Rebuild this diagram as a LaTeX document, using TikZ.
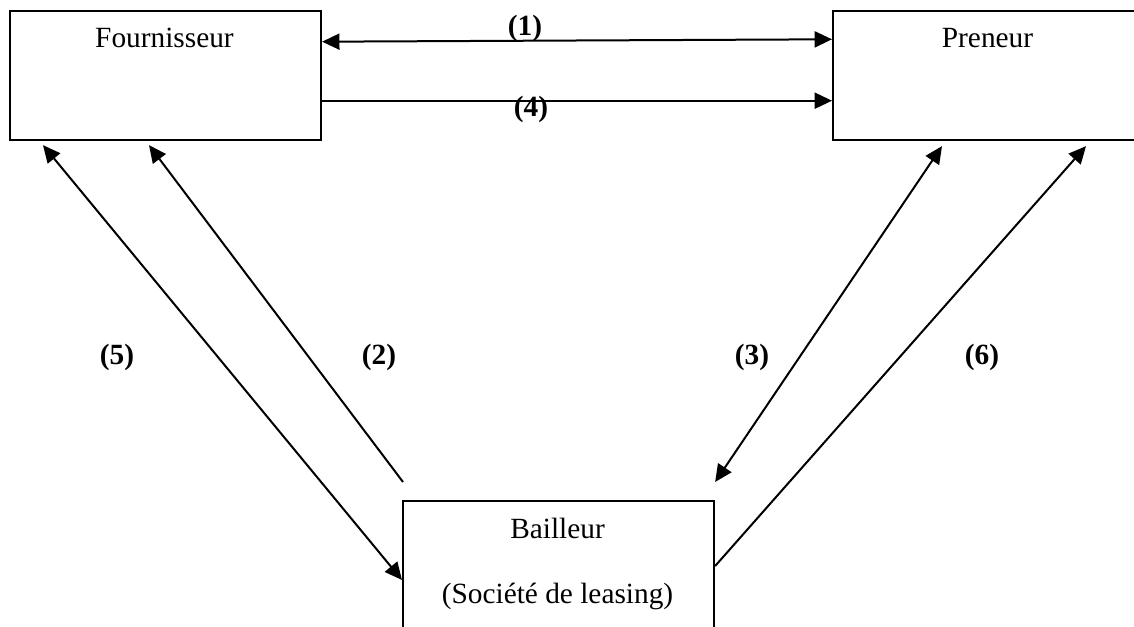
\documentclass[tikz,border=0pt]{standalone}
\usepackage{fontspec}
\setmainfont{Liberation Serif}
\usetikzlibrary{arrows.meta,calc}
\begin{document}
\begin{tikzpicture}[x=0.75pt,y=-0.75pt,
  party/.style={draw,line width=1.6pt,rectangle,minimum width=233.25pt,minimum height=96.75pt,inner sep=0pt,anchor=north west},
  partytext/.style={font=\fontsize{22pt}{26pt}\selectfont,anchor=base,inner sep=0pt},
  flownum/.style={font=\fontsize{22pt}{26pt}\selectfont\bfseries,anchor=base,inner sep=0pt},
  link/.style={line width=1.5pt},
  >={Triangle[length=13pt,width=12pt]}]
\useasboundingbox (0,0) rectangle (1134,627);
\clip (0,0) rectangle (1134,627);

% the three parties
\node[party] (F) at (9,10) {};
\node[party] (P) at (832,10) {};
\node[party] (B) at (402,500) {};

\node[partytext] (Ft) at (164.5,48) {Fournisseur};
\node[partytext] (Pt) at (987.5,48) {Preneur};
\node[partytext] (Bt) at (557.5,538) {Bailleur};
\node[partytext] (Bs) at (557.5,603) {(Société de leasing)};

% flows between the parties
\draw[link,<->] ($(F.north east)+(0,31.7)$) -- ($(P.north west)+(0,29.3)$);
\draw[link,->] ($(F.north east)+(0,90.7)$) -- ($(P.north west)+(0,90.7)$);
\draw[link,<->] ($(F.south west)+(34,4)$) -- ($(B.north west)+(0,80)$);
\draw[link,->] ($(B.north west)+(1,-18)$) -- ($(F.south west)+(140,4)$);
\draw[link,<->] ($(P.south west)+(110,5)$) -- ($(B.north east)+(0,-18)$);
\draw[link,->] ($(B.north east)+(0,66)$) -- ($(P.south west)+(254,5)$);

% flow numbers
\node[flownum] (n1) at (525,36) {(1)};
\node[flownum] (n4) at (531,117) {(4)};
\node[flownum] (n5) at (117,364) {(5)};
\node[flownum] (n2) at (379,364) {(2)};
\node[flownum] (n3) at (752,364) {(3)};
\node[flownum] (n6) at (982,364) {(6)};
\end{tikzpicture}
\end{document}
